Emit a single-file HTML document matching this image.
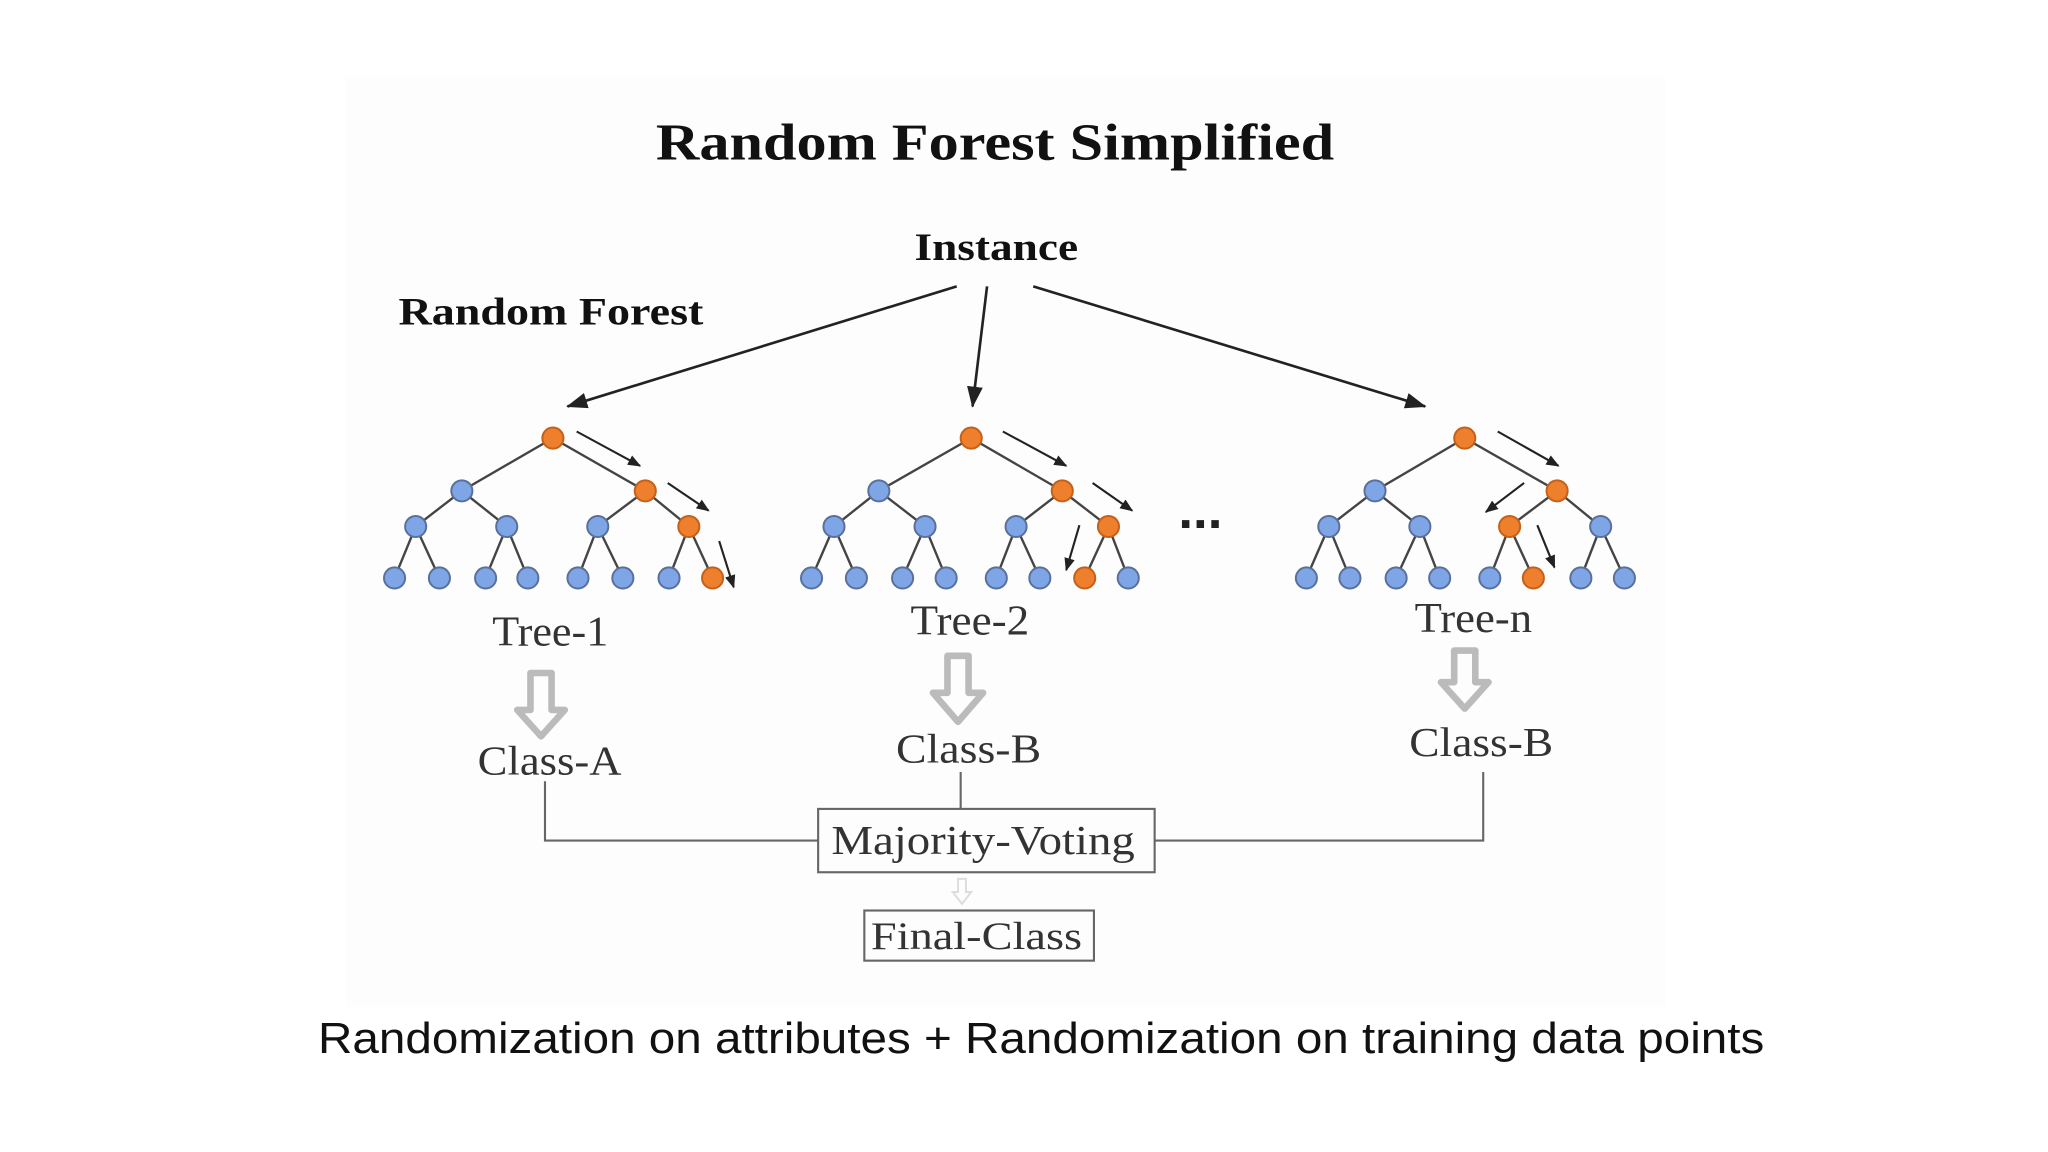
<!DOCTYPE html>
<html><head><style>html,body{margin:0;padding:0;background:#fff;}svg{display:block}</style></head>
<body>
<svg width="2048" height="1152" viewBox="0 0 1552 873" preserveAspectRatio="none" xmlns="http://www.w3.org/2000/svg">
<defs>
<marker id="ah" markerWidth="10" markerHeight="8" refX="9" refY="4" orient="auto" markerUnits="userSpaceOnUse"><path d="M0,0 L10,4 L0,8 Z" fill="#222"/></marker>
<marker id="ab" markerWidth="16" markerHeight="12" refX="15" refY="6" orient="auto" markerUnits="userSpaceOnUse"><path d="M0,0 L16,6 L0,12 Z" fill="#222"/></marker>
</defs>
<rect x="262" y="58" width="1000" height="705" fill="#fdfdfd"/>
<g font-family="Liberation Serif, serif" fill="#111" lengthAdjust="spacingAndGlyphs">
<text x="497" y="121" font-size="39" font-weight="bold" textLength="514" lengthAdjust="spacingAndGlyphs">Random Forest Simplified</text>
<text x="693" y="197" font-size="30" font-weight="bold" textLength="124" lengthAdjust="spacingAndGlyphs">Instance</text>
<text x="302" y="246" font-size="30" font-weight="bold" textLength="231" lengthAdjust="spacingAndGlyphs">Random Forest</text>
<text x="373" y="489" font-size="32" fill="#333" textLength="88" lengthAdjust="spacingAndGlyphs">Tree-1</text>
<text x="690" y="481" font-size="32" fill="#333" textLength="90" lengthAdjust="spacingAndGlyphs">Tree-2</text>
<text x="1072" y="479" font-size="32" fill="#333" textLength="89" lengthAdjust="spacingAndGlyphs">Tree-n</text>
<text x="362" y="587" font-size="31" fill="#333" textLength="109" lengthAdjust="spacingAndGlyphs">Class-A</text>
<text x="679" y="578" font-size="31" fill="#333" textLength="110" lengthAdjust="spacingAndGlyphs">Class-B</text>
<text x="1068" y="573" font-size="31" fill="#333" textLength="109" lengthAdjust="spacingAndGlyphs">Class-B</text>
<text x="630" y="647" font-size="31" fill="#333" textLength="230" lengthAdjust="spacingAndGlyphs">Majority-Voting</text>
<text x="660" y="719" font-size="30" fill="#333" textLength="160" lengthAdjust="spacingAndGlyphs">Final-Class</text>
</g>
<text x="241" y="798" font-family="Liberation Sans, sans-serif" font-size="33" fill="#111" textLength="1096" lengthAdjust="spacingAndGlyphs">Randomization on attributes + Randomization on training data points</text>
<g stroke="#222" stroke-width="2" fill="none">
<line x1="725" y1="217" x2="430" y2="308" marker-end="url(#ab)"/>
<line x1="748" y1="217" x2="737" y2="308" marker-end="url(#ab)"/>
<line x1="783" y1="217" x2="1080" y2="308" marker-end="url(#ab)"/>
</g>
<g font-family="Liberation Sans" font-size="40" font-weight="bold" fill="#222"><text x="893" y="400">...</text></g>
<g stroke="#666" stroke-width="1.6" fill="none">
<polyline points="413,592 413,637 620,637"/>
<line x1="728" y1="585" x2="728" y2="613"/>
<polyline points="875,637 1124,637 1124,585"/>
<rect x="620" y="613" width="255" height="48"/>
<rect x="655" y="690" width="174" height="38"/>
</g>
<path d="M726,666 v10 h-4 l7,9 l7,-9 h-4 v-10 Z" fill="none" stroke="#ddd" stroke-width="1.5"/>
<g fill="none" stroke="#bbb" stroke-width="5" stroke-linejoin="round">
<path d="M402,510 h16 v28 h10 l-18,20 l-18,-20 h10 Z"/>
<path d="M718,497 h16 v28 h11 l-19,22 l-19,-22 h11 Z"/>
<path d="M1102,493 h16 v24 h10 l-18,20 l-18,-20 h10 Z"/>
</g>
<g id="trees"></g>
<script>
const g=document.getElementById('trees');const ns='http://www.w3.org/2000/svg';
function el(t,a){const e=document.createElementNS(ns,t);for(const k in a)e.setAttribute(k,a[k]);g.appendChild(e);return e;}
const trees=[
{r:[419,332],l1:[350,489],l2:[315,384,453,522],lv:[299,333,368,400,438,472,507,540],o:['r','l1_1','l2_3','lv_7'],ar:[[437,327,485,353],[506,366,537,387],[545,410,556,445]]},
{r:[736,332],l1:[666,805],l2:[632,701,770,840],lv:[615,649,684,717,755,788,822,855],o:['r','l1_1','l2_3','lv_6'],ar:[[760,327,808,353],[828,366,858,387],[818,398,808,432]]},
{r:[1110,332],l1:[1042,1180],l2:[1007,1076,1144,1213],lv:[990,1023,1058,1091,1129,1162,1198,1231],o:['r','l1_1','l2_2','lv_5'],ar:[[1135,327,1181,353],[1155,366,1126,388],[1165,398,1178,430]]}];
const B='#7ea6e6',O='#ee7f2d',S='#5a6f99';
trees.forEach(t=>{
const ln=(a,b,c,d)=>el('line',{x1:a,y1:b,x2:c,y2:d,stroke:'#444','stroke-width':1.8});
t.l1.forEach(x=>ln(t.r[0],332,x,372));
t.l2.forEach((x,i)=>ln(t.l1[i>>1],372,x,399));
t.lv.forEach((x,i)=>ln(t.l2[i>>1],399,x,438));
const c=(x,y,id)=>el('circle',{cx:x,cy:y,r:8,fill:t.o.includes(id)?O:B,stroke:t.o.includes(id)?'#c4601a':S,'stroke-width':1.5});
c(t.r[0],332,'r');t.l1.forEach((x,i)=>c(x,372,'l1_'+i));t.l2.forEach((x,i)=>c(x,399,'l2_'+i));t.lv.forEach((x,i)=>c(x,438,'lv_'+i));
t.ar.forEach(a=>el('line',{x1:a[0],y1:a[1],x2:a[2],y2:a[3],stroke:'#222','stroke-width':1.6,'marker-end':'url(#ah)'}));
});
</script>
</svg>
</body></html>
